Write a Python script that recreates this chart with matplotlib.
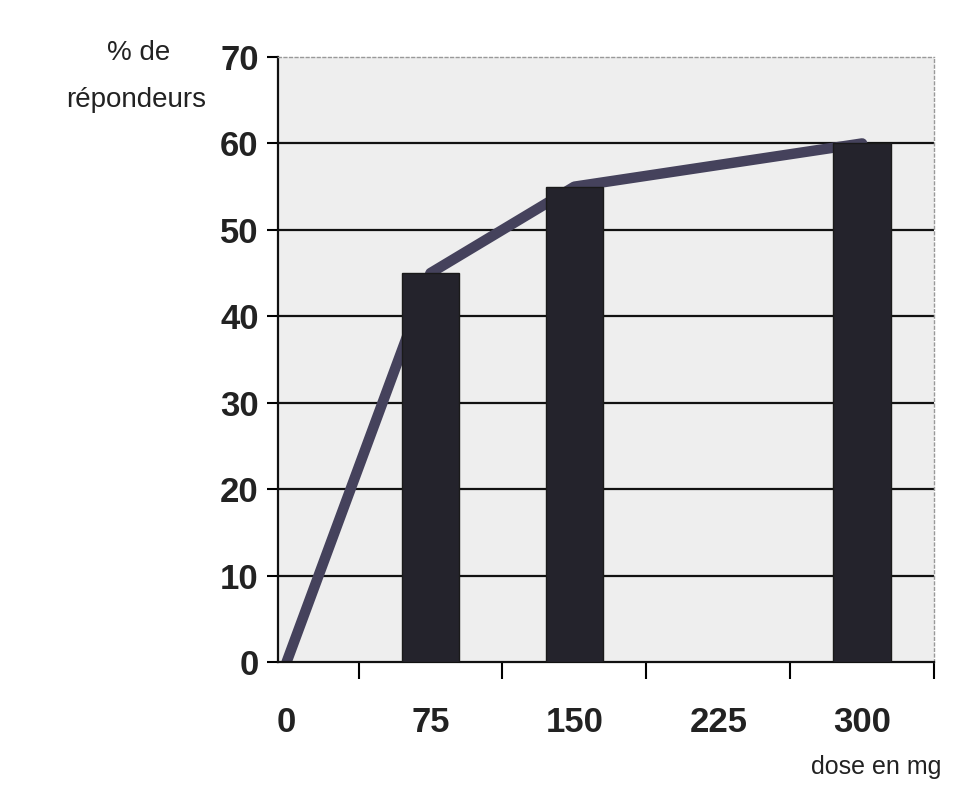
import matplotlib.pyplot as plt

plt.rcParams['font.family'] = ['Liberation Sans', 'DejaVu Sans']

doses = ['0', '75', '150', '225', '300']
bar_idx = [1, 2, 4]
bar_values = [45, 55, 60]
line_idx = [0, 1, 2, 4]
line_values = [0, 45, 55, 60]
y_ticks = [0, 10, 20, 30, 40, 50, 60, 70]

fig = plt.figure(figsize=(9.73, 8.07), dpi=100)
ax = fig.add_axes([0.2857, 0.1797, 0.6743, 0.7497])
ax.set_facecolor('#eeeeee')

# gridlines
for v in y_ticks[1:-1]:
    ax.axhline(v, color='#111111', lw=1.6, zorder=1)

ax.plot(line_idx, line_values, color='#45425c', lw=7.5, solid_capstyle='round',
        solid_joinstyle='round', zorder=2)
ax.bar(bar_idx, bar_values, width=0.4, color='#24232c', edgecolor='#1a1a1a',
       lw=1, zorder=3)

ax.set_xlim(-0.06, 4.5)
ax.set_ylim(0, 70)

ax.set_xticks([0.5, 1.5, 2.5, 3.5, 4.5])
ax.set_xticklabels([])
ax.set_xticks(range(len(doses)), minor=True)
ax.set_xticklabels(doses, minor=True, fontsize=25, fontweight='bold', color='#222222')
ax.tick_params(axis='x', which='major', length=12, width=1.5, direction='out')
ax.tick_params(axis='x', which='minor', length=0, pad=32)

ax.set_yticks(y_ticks)
ax.set_yticklabels([str(v) for v in y_ticks], fontsize=25, fontweight='bold', color='#222222')
ax.tick_params(axis='y', length=8, width=1.5, direction='out', pad=6)

for side in ['left', 'bottom']:
    ax.spines[side].set_color('#111111')
    ax.spines[side].set_linewidth(1.6)
for side in ['top', 'right']:
    ax.spines[side].set_color('#999999')
    ax.spines[side].set_linewidth(1)
    ax.spines[side].set_linestyle((0, (2, 2)))

fig.text(0.142, 0.934, '% de', fontsize=20, ha='center', va='center', color='#222222')
fig.text(0.140, 0.876, 'répondeurs', fontsize=20, ha='center', va='center', color='#222222')
fig.text(0.900, 0.050, 'dose en mg', fontsize=18, ha='center', va='center', color='#222222')

fig.savefig('out.png', dpi=100)
